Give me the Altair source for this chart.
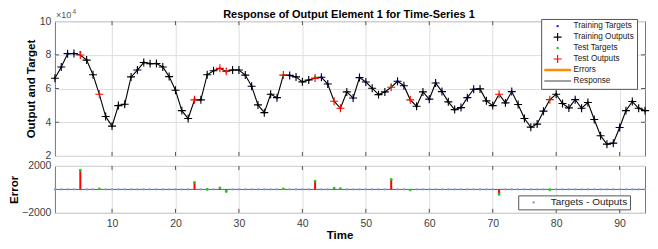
import altair as alt
import pandas as pd

# ---------------- data ----------------
time = list(range(1, 95))
outputs = [
    66100, 72800, 80700, 80800, 79900, 76900, 68200, 56600, 43400, 37700,
    49900, 50700, 66900, 71000, 75500, 74800, 74900, 72800, 67100, 59000,
    46900, 42200, 53300, 53300, 68200, 70600, 72000, 70200, 71000, 71000,
    68000, 61400, 50300, 45700, 56600, 54600, 68000, 67800, 66900, 64000,
    65100, 66200, 66700, 62700, 52500, 48300, 58000, 54400, 66500, 63900,
    60200, 56400, 58000, 60800, 64300, 61700, 53300, 49500, 58000, 53700,
    63300, 58200, 52100, 47500, 48700, 54600, 59600, 59800, 52700, 49900,
    56600, 51500, 58200, 50500, 42200, 37100, 38900, 46600, 53400, 56600,
    51100, 48500, 53400, 48300, 51700, 41600, 32000, 27000, 27600, 36900,
    46900, 52300, 48300, 46900,
]
test_times = [5, 8, 23, 27, 28, 37, 42, 45, 46, 54, 57, 71, 79]
err_times = [5, 8, 23, 25, 27, 28, 37, 42, 45, 46, 54, 57, 71, 79]
err_values = [1650, 40, 600, 0, 130, -180, 50, 700, 110, 60, 850, -60, -420, -30]

legend_names = ["Training Targets", "Training Outputs", "Test Targets",
                "Test Outputs", "Errors", "Response"]
x_ticks = [10, 20, 30, 40, 50, 60, 70, 80, 90]
y_ticks_top = [20000, 40000, 60000, 80000, 100000]
y_ticks_err = [-2000, 0, 2000]
title_text = "Response of Output Element 1 for Time-Series 1"

# ---------------- tables ----------------
err_map = dict(zip(err_times, err_values))
train_times = [t for t in time if t not in test_times]
out_map = dict(zip(time, outputs))

rows = []
for t in train_times:
    rows.append({"t": t, "v": out_map[t], "series": "Training Targets"})
for t in test_times:
    rows.append({"t": t, "v": out_map[t] + err_map.get(t, 0), "series": "Test Targets"})
for t in train_times:
    rows.append({"t": t, "v": out_map[t], "series": "Training Outputs"})
for t in test_times:
    rows.append({"t": t, "v": out_map[t], "series": "Test Outputs"})
pts = pd.DataFrame(rows)
pts["order"] = range(len(pts))
line_df = pd.DataFrame({"t": time, "v": outputs})

err_df = pd.DataFrame({"t": err_times, "err": err_values, "base": [0] * len(err_times)})
zero_df = pd.DataFrame({"t": train_times, "err": [0] * len(train_times),
                        "lbl": ["Targets - Outputs"] * len(train_times)})
xt_df = pd.DataFrame({"t": x_ticks})
yt_top_df = pd.DataFrame({"v": y_ticks_top[1:-1]})
one = pd.DataFrame({"a": [0]})

FONT = "Liberation Sans"
W = 591
H1 = 135
H2 = 47
TICK = "#555555"
# symbol paths in unit space [-1, 1]
DOT = "circle"
PLUS = "M-1,-0.14H1V0.14H-1Z M-0.14,-1H0.14V1H-0.14Z"
LINE_THIN = "M-1,-0.05H1V0.05H-1Z"
LINE_THICK = "M-1,-0.09H1V0.09H-1Z"
TINY_DOT = "M-0.09,0A0.09,0.09 0 1,0 0.09,0A0.09,0.09 0 1,0 -0.09,0Z"

xscale = alt.Scale(domain=[1, 94], nice=False, zero=False)

# ---------------- top panel ----------------
x_top = alt.X("t:Q", scale=xscale,
              axis=alt.Axis(values=x_ticks, labels=False, ticks=False, domain=False,
                            title=None, grid=True))
y_top = alt.Y("v:Q", scale=alt.Scale(domain=[20000, 100000], nice=False, zero=False),
              axis=alt.Axis(values=y_ticks_top,
                            labelExpr="datum.value / 10000", title="Output and Target",
                            ticks=False, domain=False, grid=True, labelPadding=4,
                            titlePadding=3))

resp = alt.Chart(line_df).mark_line(color="black", strokeWidth=1.1).encode(x=x_top, y=y_top)

top_legend = alt.Legend(orient="none", legendX=487, legendY=-2.2, title=None,
                        fillColor="white", strokeColor="#555555",
                        padding=3, labelFontSize=8.2, labelFont=FONT,
                        labelColor="#222222", rowPadding=1.0, clipHeight=8.3,
                        symbolOffset=0, labelOffset=2.5,
                        symbolStrokeWidth=0, cornerRadius=0)

marks = alt.Chart(pts).mark_point(filled=True, opacity=1, strokeWidth=0).encode(
    x=x_top, y=y_top,
    order=alt.Order("order:Q"),
    color=alt.Color("series:N",
                    scale=alt.Scale(domain=legend_names,
                                    range=["#1a1aff", "#000000", "#22cc22", "#ff0000",
                                           "#ff8c00", "#808080"]),
                    legend=top_legend),
    shape=alt.Shape("series:N",
                    scale=alt.Scale(domain=legend_names,
                                    range=[DOT, PLUS, DOT, PLUS, LINE_THICK, LINE_THIN]),
                    legend=top_legend),
    size=alt.Size("series:N",
                  scale=alt.Scale(type="ordinal", domain=legend_names,
                                  range=[6, 64, 6, 64, 729, 729]),
                  legend=top_legend),
)

xt_bot1 = alt.Chart(xt_df).mark_rule(color=TICK, strokeWidth=1).encode(
    x=x_top, y=alt.value(H1), y2=alt.value(H1 - 4))
xt_top1 = alt.Chart(xt_df).mark_rule(color=TICK, strokeWidth=1).encode(
    x=x_top, y=alt.value(0), y2=alt.value(4))
yt_l1 = alt.Chart(yt_top_df).mark_rule(color=TICK, strokeWidth=1).encode(
    y=y_top, x=alt.value(0), x2=alt.value(4))
yt_r1 = alt.Chart(yt_top_df).mark_rule(color=TICK, strokeWidth=1).encode(
    y=y_top, x=alt.value(W), x2=alt.value(W - 4))

exp1 = alt.Chart(one).mark_text(
    align="left", baseline="middle", fontSize=9, color="#555555", font=FONT
).encode(x=alt.value(1), y=alt.value(-6.5), text=alt.value("×10"))
exp2 = alt.Chart(one).mark_text(
    align="left", baseline="middle", fontSize=6.5, color="#555555", font=FONT
).encode(x=alt.value(17.5), y=alt.value(-9), text=alt.value("4"))
ttl = alt.Chart(one).mark_text(
    align="center", baseline="alphabetic", fontSize=11, fontWeight="bold",
    color="black", font=FONT
).encode(x=alt.value(W / 2 - 1), y=alt.value(-3.5), text=alt.value(title_text))

top = alt.layer(xt_bot1, xt_top1, yt_l1, yt_r1, resp, marks, exp1, exp2, ttl).properties(
    width=W, height=H1)

# ---------------- bottom panel ----------------
x_bot = alt.X("t:Q", scale=xscale,
              axis=alt.Axis(values=x_ticks, title="Time", ticks=False, domain=False,
                            grid=True, labelPadding=6, titlePadding=0, titleX=285))
y_bot = alt.Y("err:Q", scale=alt.Scale(domain=[-2000, 2000], nice=False),
              axis=alt.Axis(values=y_ticks_err, format="d", title="Error", ticks=False,
                            domain=False, grid=True, labelPadding=4, titlePadding=1.5))

zero_line = alt.Chart(one).mark_rule(color="#56627e", strokeWidth=1).encode(y=alt.datum(0))

blue = alt.Chart(zero_df).mark_point(filled=True, strokeWidth=0, size=5, opacity=1).encode(
    x=x_bot, y=y_bot,
    color=alt.Color("lbl:N", scale=alt.Scale(domain=["Targets - Outputs"], range=["#7f9be0"]),
                    legend=alt.Legend(orient="none", legendX=464, legendY=29.5, title=None,
                                      fillColor="white", strokeColor="#555555",
                                      padding=2, labelFontSize=10, labelFont=FONT,
                                      labelColor="#222222", symbolStrokeWidth=0,
                                      symbolType=TINY_DOT, symbolSize=729,
                                      clipHeight=10, symbolOffset=0, labelOffset=3.5,
                                      cornerRadius=0)),
)

stems = alt.Chart(err_df).mark_rule(color="#ff0000", strokeWidth=2).encode(
    x=x_bot, y=alt.Y("base:Q"), y2="err:Q")
tips = alt.Chart(err_df).mark_point(filled=True, strokeWidth=0, size=8, color="#22cc22",
                                    opacity=1).encode(x=x_bot, y=y_bot)

xt_bot2 = alt.Chart(xt_df).mark_rule(color=TICK, strokeWidth=1).encode(
    x=x_bot, y=alt.value(H2), y2=alt.value(H2 - 4))
xt_top2 = alt.Chart(xt_df).mark_rule(color=TICK, strokeWidth=1).encode(
    x=x_bot, y=alt.value(0), y2=alt.value(4))

bottom = alt.layer(xt_bot2, xt_top2, zero_line, blue, stems, tips).properties(
    width=W, height=H2)

chart = alt.vconcat(top, bottom, spacing=10, bounds="flush").resolve_scale(
    color="independent", shape="independent", size="independent"
).resolve_legend(
    color="independent", shape="independent", size="independent"
).properties(
    padding={"left": 0, "top": 0, "right": 0, "bottom": 0}
).configure(font=FONT).configure_view(
    stroke="#777777", strokeWidth=1
).configure_axis(
    labelFont=FONT, labelFontSize=10.5, labelColor="#404040",
    titleFont=FONT, titleFontSize=11.5, titleFontWeight="bold", titleColor="black",
    gridColor="#dedede", gridWidth=1,
)

chart.save("out.html", embed_options={"renderer": "svg", "actions": False})
